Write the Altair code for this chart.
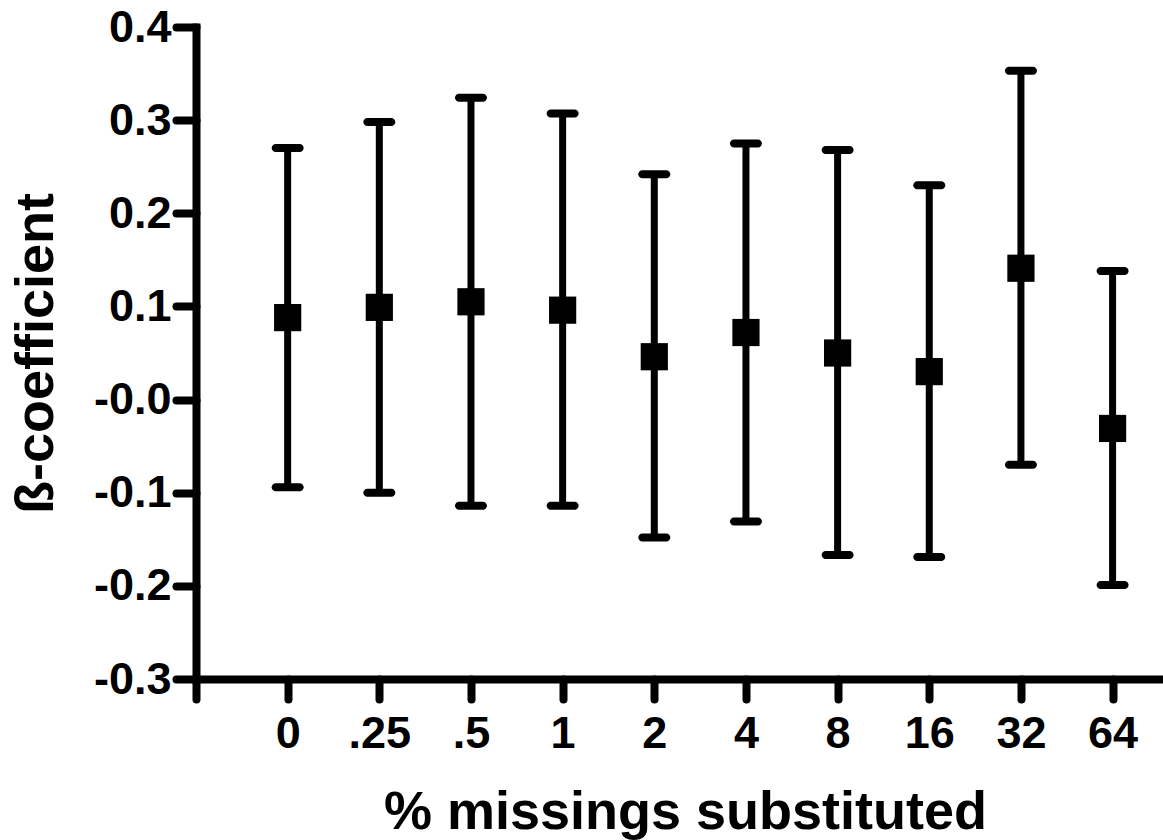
import altair as alt
import pandas as pd

labels = ["0", ".25", ".5", "1", "2", "4", "8", "16", "32", "64"]
beta = [0.088, 0.099, 0.105, 0.096, 0.046, 0.072, 0.050, 0.030, 0.141, -0.031]
upper = [0.270, 0.298, 0.324, 0.307, 0.242, 0.275, 0.268, 0.230, 0.353, 0.138]
lower = [-0.094, -0.100, -0.114, -0.114, -0.148, -0.131, -0.167, -0.169, -0.070, -0.199]
y_ticks = [-0.3, -0.2, -0.1, 0.0, 0.1, 0.2, 0.3, 0.4]

df = pd.DataFrame({
    "pos": list(range(1, len(labels) + 1)),
    "label": labels,
    "beta": beta,
    "upper": upper,
    "lower": lower,
})

FONT = "Liberation Sans"
label_arr = "[" + ",".join(["''"] + [f"'{l}'" for l in labels]) + "]"

x_scale = alt.Scale(domain=[0, 10.55], nice=False, zero=False)
y_scale = alt.Scale(domain=[-0.3, 0.4], nice=False, zero=False)

x_axis = alt.Axis(
    values=list(range(0, len(labels) + 1)),
    labelExpr=f"{label_arr}[datum.value]",
    title="% missings substituted",
    grid=False,
    domainColor="black", domainWidth=8, domainCap="square",
    tickColor="black", tickWidth=8, tickSize=20, tickCap="round",
    labelFont=FONT, labelFontSize=45, labelFontWeight="bold", labelColor="black",
    labelPadding=12, labelAngle=0,
    titleFont=FONT, titleFontSize=54, titleFontWeight="bold", titleColor="black",
    titleBaseline="alphabetic", titleY=149, titleX=489,
)
y_axis = alt.Axis(
    values=y_ticks,
    labelExpr="(datum.value <= 0 ? '-' : '') + format(abs(datum.value), '.1f')",
    title="ß-coefficient",
    grid=False,
    domainColor="black", domainWidth=8, domainCap="square",
    tickColor="black", tickWidth=8, tickSize=20, tickCap="round",
    labelFont=FONT, labelFontSize=45, labelFontWeight="bold", labelColor="black",
    labelPadding=5,
    titleFont=FONT, titleFontSize=54, titleFontWeight="bold", titleColor="black",
    titleAngle=-90, titleBaseline="alphabetic", titleX=-144,
)

base = alt.Chart(df)

rules = base.mark_rule(color="black", strokeWidth=7).encode(
    x=alt.X("pos:Q", scale=x_scale, axis=x_axis),
    y=alt.Y("lower:Q", scale=y_scale, axis=y_axis),
    y2="upper:Q",
)
caps_up = base.mark_tick(color="black", orient="horizontal", size=32, thickness=8,
                         cornerRadius=4, opacity=1).encode(
    x=alt.X("pos:Q", scale=x_scale),
    y=alt.Y("upper:Q", scale=y_scale),
)
caps_lo = base.mark_tick(color="black", orient="horizontal", size=32, thickness=8,
                         cornerRadius=4, opacity=1).encode(
    x=alt.X("pos:Q", scale=x_scale),
    y=alt.Y("lower:Q", scale=y_scale),
)
points = base.mark_square(color="black", size=740, opacity=1, filled=True).encode(
    x=alt.X("pos:Q", scale=x_scale),
    y=alt.Y("beta:Q", scale=y_scale),
)

chart = alt.layer(rules, caps_up, caps_lo, points).properties(
    width=967,
    height=652,
    autosize=alt.AutoSizeParams(type="none"),
    padding={"left": 196, "top": 27, "right": 0, "bottom": 161},
    background="white",
).configure_view(stroke=None)

chart.save("out.html", embed_options={"renderer": "svg", "actions": False})
